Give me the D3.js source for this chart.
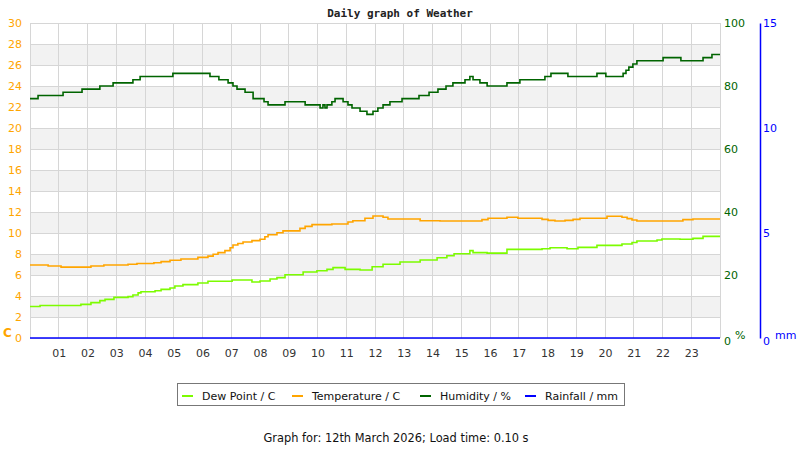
<!DOCTYPE html>
<html>
  <head>
    <meta charset="utf-8">
    <script src="https://d3js.org/d3.v7.min.js"></script>
    <title>Daily graph of Weather</title>
    <style>
      body { margin: 0px; background: #fff; }
      text { font-family: "DejaVu Sans", sans-serif; font-size: 11px; }
    </style>
  </head>
  <body>
    <svg width="800" height="450"></svg>
    <script>
      // readings, step change points (hour of day -> value)
      const dewTimes = [0, 0.35, 1.77, 2.12, 2.43, 2.61, 2.92, 3.41, 3.58, 3.76, 3.86, 4.35, 4.56, 4.87, 5.04, 5.32,
        5.84, 6.19, 7.03, 7.72, 8.0, 8.35, 8.59, 8.87, 9.5, 9.98, 10.33, 10.54, 10.96, 11.48, 11.9, 12.28,
        12.87, 13.57, 14.16, 14.5, 14.75, 15.3, 15.41, 15.9, 16.59, 17.81, 18.09, 18.68, 19.06, 19.72,
        20.59, 20.94, 21.11, 21.81, 21.98, 22.61, 23.06, 23.41];
      const dewValues = [3.0, 3.1, 3.2, 3.37, 3.56, 3.68, 3.87, 3.94, 4.1, 4.3, 4.41, 4.5, 4.63, 4.76, 4.95, 5.08,
        5.24, 5.4, 5.52, 5.33, 5.43, 5.62, 5.75, 6.03, 6.29, 6.41, 6.54, 6.7, 6.54, 6.48, 6.79, 7.02,
        7.24, 7.43, 7.65, 7.84, 8.03, 8.32, 8.13, 8.08, 8.44, 8.5, 8.6, 8.5, 8.63, 8.82,
        8.95, 9.1, 9.24, 9.33, 9.43, 9.4, 9.49, 9.68];

      const tempTimes = [0, 0.63, 1.08, 2.12, 2.57, 3.41, 3.72, 4.31, 4.56, 4.87, 5.25, 5.84, 6.19, 6.37, 6.54, 6.78,
        6.96, 7.06, 7.23, 7.41, 7.72, 8.0, 8.17, 8.28, 8.59, 8.8, 9.39, 9.57, 9.81, 10.5, 11.06, 11.23,
        11.65, 11.93, 12.28, 12.45, 13.57, 14.26, 15.72, 15.93, 16.59, 16.97, 17.81, 18.02, 18.26, 18.61,
        18.89, 19.13, 20.07, 20.59, 20.77, 20.94, 21.11, 22.71, 23.06];
      const tempValues = [6.95, 6.86, 6.75, 6.86, 6.95, 7.02, 7.1, 7.17, 7.27, 7.4, 7.52, 7.68, 7.8, 7.97, 8.13, 8.32,
        8.6, 8.86, 9.0, 9.14, 9.27, 9.4, 9.65, 9.84, 10.03, 10.2, 10.44, 10.63, 10.8, 10.86, 11.05, 11.17,
        11.4, 11.62, 11.5, 11.33, 11.17, 11.14, 11.27, 11.4, 11.5, 11.4, 11.3, 11.2, 11.14, 11.2,
        11.3, 11.4, 11.59, 11.5, 11.37, 11.24, 11.14, 11.27, 11.33];

      const humTimes = [0, 0.28, 1.15, 1.81, 2.43, 2.89, 3.58, 3.83, 4.97, 6.26, 6.57, 6.89, 7.06, 7.2, 7.48, 7.76,
        8.14, 8.28, 8.87, 9.57, 10.09, 10.19, 10.26, 10.33, 10.5, 10.61, 10.89, 11.06, 11.2, 11.48, 11.72, 11.93,
        12.1, 12.28, 12.52, 12.94, 13.53, 13.88, 14.19, 14.47, 14.71, 15.13, 15.3, 15.41, 15.65, 15.9,
        16.59, 17.04, 17.91, 18.12, 18.71, 19.72, 20.03, 20.63, 20.73, 20.83, 20.97, 21.11, 22.02, 22.64, 23.41, 23.72];
      const humValues = [76, 77, 78, 79, 80, 81, 82, 83, 84, 83, 82, 81, 80, 79, 78, 76,
        75, 74, 75, 74, 73, 74, 73, 74, 75, 76, 75, 74, 73, 72, 71, 72,
        73, 74, 75, 76, 77, 78, 79, 80, 81, 82, 83, 82, 81, 80,
        81, 82, 83, 84, 83, 84, 83, 84, 85, 86, 87, 88, 89, 88, 89, 90];

      const rainTimes = [0];
      const rainValues = [0];

      const hourTicks = d3.range(1, 24);
      const tempTicks = d3.range(0, 31, 2);
      const humTicks = [0, 20, 40, 60, 80, 100];
      const rainTicks = [0, 5, 10, 15];

      const legendItems = [
        { label: 'Dew Point / C', color: '#7cfc00' },
        { label: 'Temperature / C', color: '#ffa500' },
        { label: 'Humidity / %', color: '#006400' },
        { label: 'Rainfall / mm', color: '#0000ff' }
      ];

      const plotLeft = 30, plotRight = 720, plotTop = 23, plotBottom = 338;
      const svg = d3.select('svg');

      const x = d3.scaleLinear().domain([0, 24]).range([plotLeft, plotRight]);
      const yTemp = d3.scaleLinear().domain([0, 30]).range([plotBottom, plotTop]);
      const yHum = d3.scaleLinear().domain([0, 100]).range([plotBottom, plotTop]);
      const yRain = d3.scaleLinear().domain([0, 15]).range([plotBottom, plotTop]);

      // alternating bands
      svg.append('g').selectAll('rect')
        .data(d3.range(2, 30, 4))
        .enter().append('rect')
          .attr('x', plotLeft)
          .attr('width', plotRight - plotLeft)
          .attr('y', d => yTemp(d + 2))
          .attr('height', d => yTemp(d) - yTemp(d + 2))
          .attr('fill', '#f2f2f2');

      const grid = svg.append('g')
        .attr('stroke', '#d6d6d6')
        .attr('stroke-width', 1)
        .attr('shape-rendering', 'crispEdges');
      grid.selectAll('.h').data(tempTicks)
        .enter().append('line')
          .attr('x1', plotLeft).attr('x2', plotRight)
          .attr('y1', d => yTemp(d)).attr('y2', d => yTemp(d));
      grid.selectAll('.v').data(d3.range(0, 25))
        .enter().append('line')
          .attr('x1', d => x(d)).attr('x2', d => x(d))
          .attr('y1', plotTop).attr('y2', plotBottom);

      // axes
      const xAxisG = svg.append('g')
        .attr('transform', `translate(0, ${plotBottom + 15})`)
        .call(d3.axisBottom(x).tickValues(hourTicks).tickSize(0).tickFormat(d3.format('02d')));
      xAxisG.select('.domain').remove();
      xAxisG.selectAll('text').attr('fill', '#333').attr('dy', '0.32em').attr('y', 0)
        .style('font-size', '11px');

      const yAxisG = svg.append('g')
        .attr('transform', `translate(${plotLeft - 8}, 0)`)
        .call(d3.axisLeft(yTemp).tickValues(tempTicks).tickSize(0).tickPadding(0));
      yAxisG.select('.domain').remove();
      yAxisG.selectAll('text').attr('fill', '#ffa500').style('font-size', '11px');

      const humAxisG = svg.append('g')
        .attr('transform', `translate(${plotRight + 4}, 0)`)
        .call(d3.axisRight(yHum).tickValues(humTicks).tickSize(0).tickPadding(0));
      humAxisG.select('.domain').remove();
      humAxisG.selectAll('text').attr('fill', '#006400').style('font-size', '11px');

      const rainAxisG = svg.append('g')
        .attr('transform', 'translate(760, 0)')
        .call(d3.axisRight(yRain).tickValues(rainTicks).tickSize(0).tickPadding(3));
      rainAxisG.select('.domain').attr('stroke', '#0000ff').attr('stroke-width', 1.5);
      rainAxisG.selectAll('text').attr('fill', '#0000ff').style('font-size', '11px');
      humAxisG.selectAll('.tick').filter(d => d === 0).select('text').attr('dy', '0.6em');
      rainAxisG.selectAll('.tick').filter(d => d === 0).select('text').attr('dy', '0.6em');

      // series
      const stepLine = (times, values, yScale) => {
        const pts = times.map((t, i) => [t, values[i]]);
        pts.push([24, values[values.length - 1]]);
        return d3.line()
          .x(d => x(d[0]))
          .y(d => yScale(d[1]))
          .curve(d3.curveStepAfter)(pts);
      };

      svg.append('path').attr('d', stepLine(dewTimes, dewValues, yTemp))
        .attr('fill', 'none').attr('stroke', '#7cfc00').attr('stroke-width', 1.6);
      svg.append('path').attr('d', stepLine(tempTimes, tempValues, yTemp))
        .attr('fill', 'none').attr('stroke', '#ffa500').attr('stroke-width', 1.6);
      svg.append('path').attr('d', stepLine(humTimes, humValues, yHum))
        .attr('fill', 'none').attr('stroke', '#006400').attr('stroke-width', 1.6);
      svg.append('path').attr('d', stepLine(rainTimes, rainValues, yRain))
        .attr('fill', 'none').attr('stroke', '#0000ff').attr('stroke-width', 1.6);

      // titles and units
      svg.append('text')
        .attr('x', 400).attr('y', 17)
        .attr('text-anchor', 'middle')
        .style('font-family', '"DejaVu Sans Mono", monospace')
        .style('font-weight', 'bold')
        .attr('fill', '#222')
        .text('Daily graph of Weather');

      svg.append('text').attr('x', 3).attr('y', 337)
        .style('font-weight', 'bold').style('font-size', '12px')
        .attr('fill', '#ffa500').text('C');
      svg.append('text').attr('x', 735).attr('y', 339)
        .attr('fill', '#006400').text('%');
      svg.append('text').attr('x', 775).attr('y', 339)
        .attr('fill', '#0000ff').text('mm');

      // legend
      const legend = svg.append('g');
      legend.append('rect')
        .attr('x', 177.5).attr('y', 383.5)
        .attr('width', 447).attr('height', 22)
        .attr('fill', '#fff').attr('stroke', '#777');
      const legendX = [182, 292, 420, 525];
      const items = legend.selectAll('g.item').data(legendItems)
        .enter().append('g')
          .attr('transform', (d, i) => `translate(${legendX[i]}, 396)`);
      items.append('line')
        .attr('x1', 0).attr('x2', 11)
        .attr('stroke', d => d.color).attr('stroke-width', 2);
      items.append('text')
        .attr('x', 20).attr('dy', '0.32em')
        .attr('fill', '#111')
        .text(d => d.label);

      svg.append('text')
        .attr('x', 396).attr('y', 442)
        .attr('text-anchor', 'middle')
        .attr('fill', '#111')
        .style('font-size', '11.4px')
        .text('Graph for: 12th March 2026; Load time: 0.10 s');
    </script>
  </body>
</html>
